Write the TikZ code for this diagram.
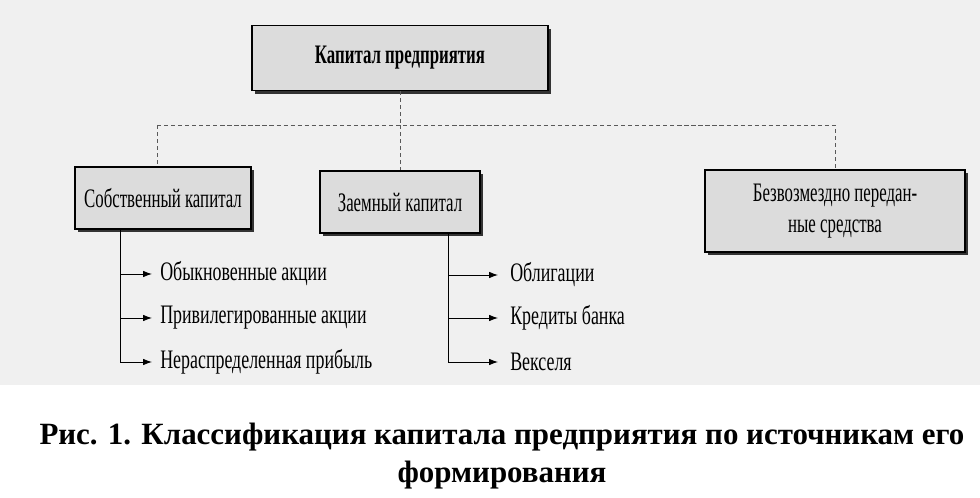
\documentclass[tikz,border=0pt]{standalone}
\usepackage{fontspec}
\setmainfont{Liberation Serif}
\newfontfamily\boxserif[FakeStretch=0.63]{Liberation Serif}
\newfontfamily\itemserif[FakeStretch=0.67]{Liberation Serif}
\usetikzlibrary{positioning,shadows,arrows.meta}

\definecolor{boxgray}{HTML}{DCDCDC}
\definecolor{bggray}{HTML}{F0F0F0}

\tikzset{
  capbox/.style={draw, thick, fill=boxgray, minimum height=1.55cm,
    font=\boxserif\fontsize{19}{22}\selectfont, align=center,
    drop shadow={shadow xshift=0.08cm, shadow yshift=-0.08cm, opacity=1, fill=black!80}},
  tie/.style={densely dashed, gray!70!black, thin},
  branch/.style={semithick},
  itemtext/.style={anchor=west, inner sep=0pt, font=\itemserif\fontsize{19}{22}\selectfont}
}

\begin{document}
\begin{tikzpicture}[x=0.025cm, y=-0.025cm]
\useasboundingbox (0,0) rectangle (980,498);
\fill[bggray] (0,0) rectangle (980,385);

% boxes
\node[capbox, minimum width=7.4cm, minimum height=1.62cm, font=\boxserif\bfseries\fontsize{19}{22}\selectfont] (capital) at (400,58) {Капитал предприятия};
\node[capbox, minimum width=4.4cm] (own) at (163,198) {Собственный капитал};
\node[capbox, minimum width=4.0cm] (borrowed) at (400,202) {Заемный капитал};
\node[capbox, minimum width=6.5cm, minimum height=2.05cm] (gratis) at (835,211) {Безвозмездно передан-\\ные средства};

% dashed links
\coordinate (hub) at (400,125);
\draw[tie] (capital.south) -- (hub);
\draw[tie] (hub) -- (borrowed.north);
\draw[tie] (157,125) -- (own.north -| 157,0);
\draw[tie] (157,125) -- (835,125) -- (gratis.north);

% own capital items
\node[itemtext] (ord) at (160,274) {Обыкновенные акции};
\node[itemtext] (pref) at (160,318) {Привилегированные акции};
\node[itemtext] (ret) at (160,362) {Нераспределенная прибыль};
\draw[branch] (own.south -| 120,0) -- (120,362);
\foreach \n in {ord,pref,ret}
  \draw[branch,-{Latex[length=2.2mm,width=1.6mm]}] (\n.west -| 120,0) -- ([xshift=-0.2cm]\n.west);

% borrowed capital items
\node[itemtext] (bonds) at (510,275) {Облигации};
\node[itemtext] (loans) at (510,318) {Кредиты банка};
\node[itemtext] (bills) at (510,362) {Векселя};
\draw[branch] (borrowed.south -| 448,0) -- (448,362);
\foreach \n in {bonds,loans,bills}
  \draw[branch,-{Latex[length=2.2mm,width=1.6mm]}] (\n.west -| 448,0) -- ([xshift=-0.3cm]\n.west);

% caption
\node[font=\bfseries\fontsize{22}{27}\selectfont, align=center] (caption) at (502,456)
  {Рис. 1. Классификация капитала предприятия по источникам его\\формирования};
\end{tikzpicture}
\end{document}
